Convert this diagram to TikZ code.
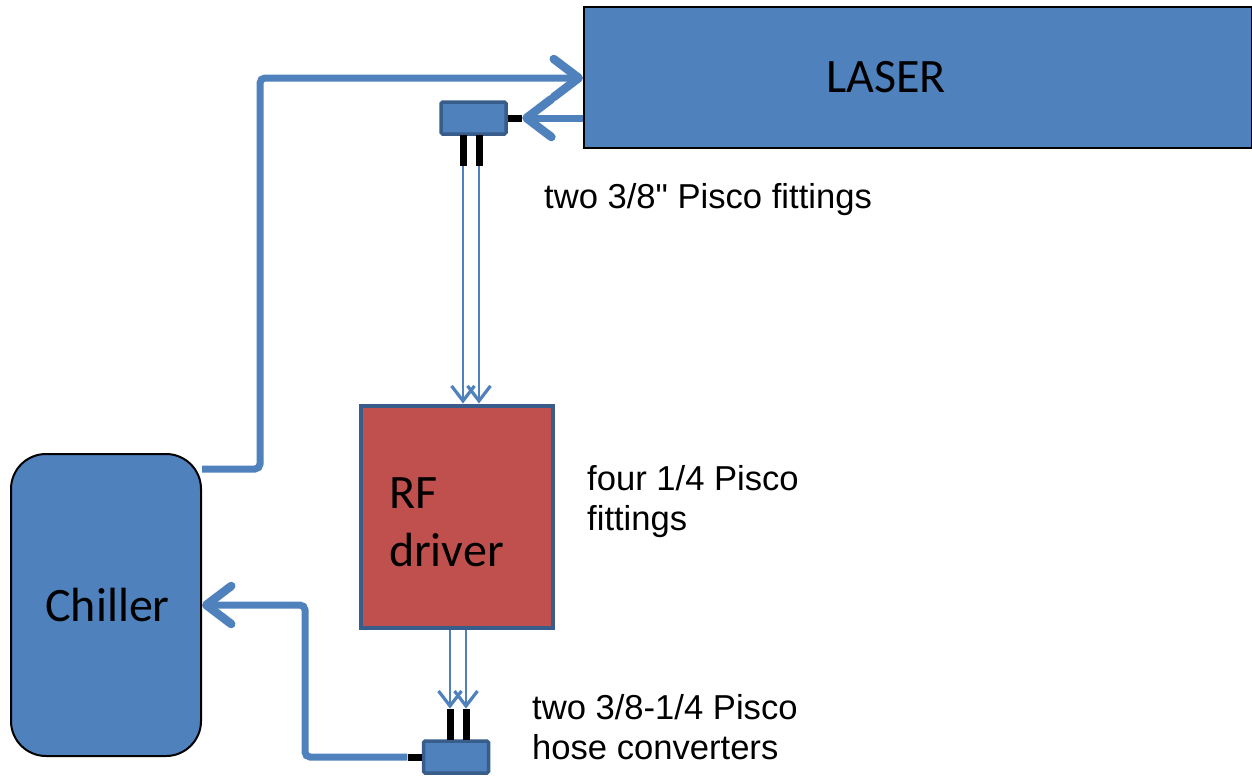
\documentclass[tikz,border=0pt]{standalone}
\usepackage{fontspec}
\setmainfont{Liberation Sans}
\newfontfamily\boxfont{Carlito}
\newfontfamily\lblfont{Liberation Sans}
\usepackage{tikz}
\usetikzlibrary{arrows.meta,positioning}
\definecolor{boxblue}{HTML}{4F81BD}
\definecolor{edgeblue}{HTML}{385D8A}
\definecolor{rfred}{HTML}{C0504D}
\tikzset{
  unit/.style={draw=black, line width=2pt, fill=boxblue, font=\boxfont\fontsize{48}{58}\selectfont},
  fitbox/.style={draw=edgeblue, line width=3.5pt, fill=boxblue, rounded corners=1.5pt,
                 minimum width=65pt, minimum height=32pt, inner sep=0pt},
  stubv/.style={fill=black, minimum width=7pt, minimum height=31pt, inner sep=0pt},
  stubh/.style={fill=black, minimum width=14pt, minimum height=7pt, inner sep=0pt},
  lbl/.style={anchor=west, align=left, inner sep=0pt, font=\lblfont\fontsize{34.6}{40.5}\selectfont},
  hose/.style={-{Straight Barb[length=25pt, width=38pt, line width=8.5pt, round]}, draw=boxblue,
               line width=7pt, rounded corners=5pt},
  thin hose/.style={-{Straight Barb[length=15pt, width=23pt, line width=3.2pt]}, draw=boxblue, line width=2.5pt}
}

\begin{document}
\begin{tikzpicture}[x=1pt, y=-1pt]
    \useasboundingbox (0,0) rectangle (1252,776);
    \node[unit, minimum width=668pt, minimum height=141pt] (laser) at (918,77.5) {};
    \node[font=\boxfont\fontsize{48}{56}\selectfont] (laserText) at (886,77) {LASER};
    \node[unit, rounded corners=35pt, minimum width=190pt, minimum height=302pt] (chiller) at (106,605) {\hspace*{3pt}Chiller};
    \node[unit, draw=edgeblue, line width=4pt, fill=rfred, minimum width=189pt, minimum height=222pt,
          text width=136pt, align=left, inner xsep=28pt] (rf) at (457,516.5) {\rule{0pt}{42pt}RF\\driver};

    \node[fitbox] (fitTop) at (473.5,118) {};
    \node[stubh, right=0pt of fitTop.east] (stubTop) {};
    \node[stubv, anchor=north] (stubTopA) at (463,135) {};
    \node[stubv, anchor=north] (stubTopB) at (479,135) {};

    \node[fitbox] (fitBot) at (456,757) {};
    \node[stubh, left=0pt of fitBot.west] (stubBot) {};
    \node[stubv, anchor=south] (stubBotA) at (450,740) {};
    \node[stubv, anchor=south] (stubBotB) at (466,740) {};

    \node[lbl] (lblTop) at (544,200) {two 3/8" Pisco fittings};
    \node[lbl] (lblRf) at (587,501.5) {four 1/4 Pisco\\fittings};
    \node[lbl] (lblBot) at (532,727) {two 3/8-1/4 Pisco\\hose converters};

    \coordinate (chillerOut) at (chiller.east |- 0,469);
    \coordinate (laserIn) at (laser.west |- 0,78);
    \draw[hose] (chillerOut) -- (260,469) -- (260,78) -- (laserIn);
    \draw[hose] (laser.west |- stubTop) -- (stubTop.east);
    \draw[hose] (stubBot.west) -- (305,757) -- (305,605) -- (chiller.east);

    \draw[thin hose] (stubTopA.south) -- (stubTopA.south |- rf.north);
    \draw[thin hose] (stubTopB.south) -- (stubTopB.south |- rf.north);
    \draw[thin hose] (stubBotA.north |- rf.south) -- (stubBotA.north);
    \draw[thin hose] (stubBotB.north |- rf.south) -- (stubBotB.north);
  \end{tikzpicture}
\end{document}
